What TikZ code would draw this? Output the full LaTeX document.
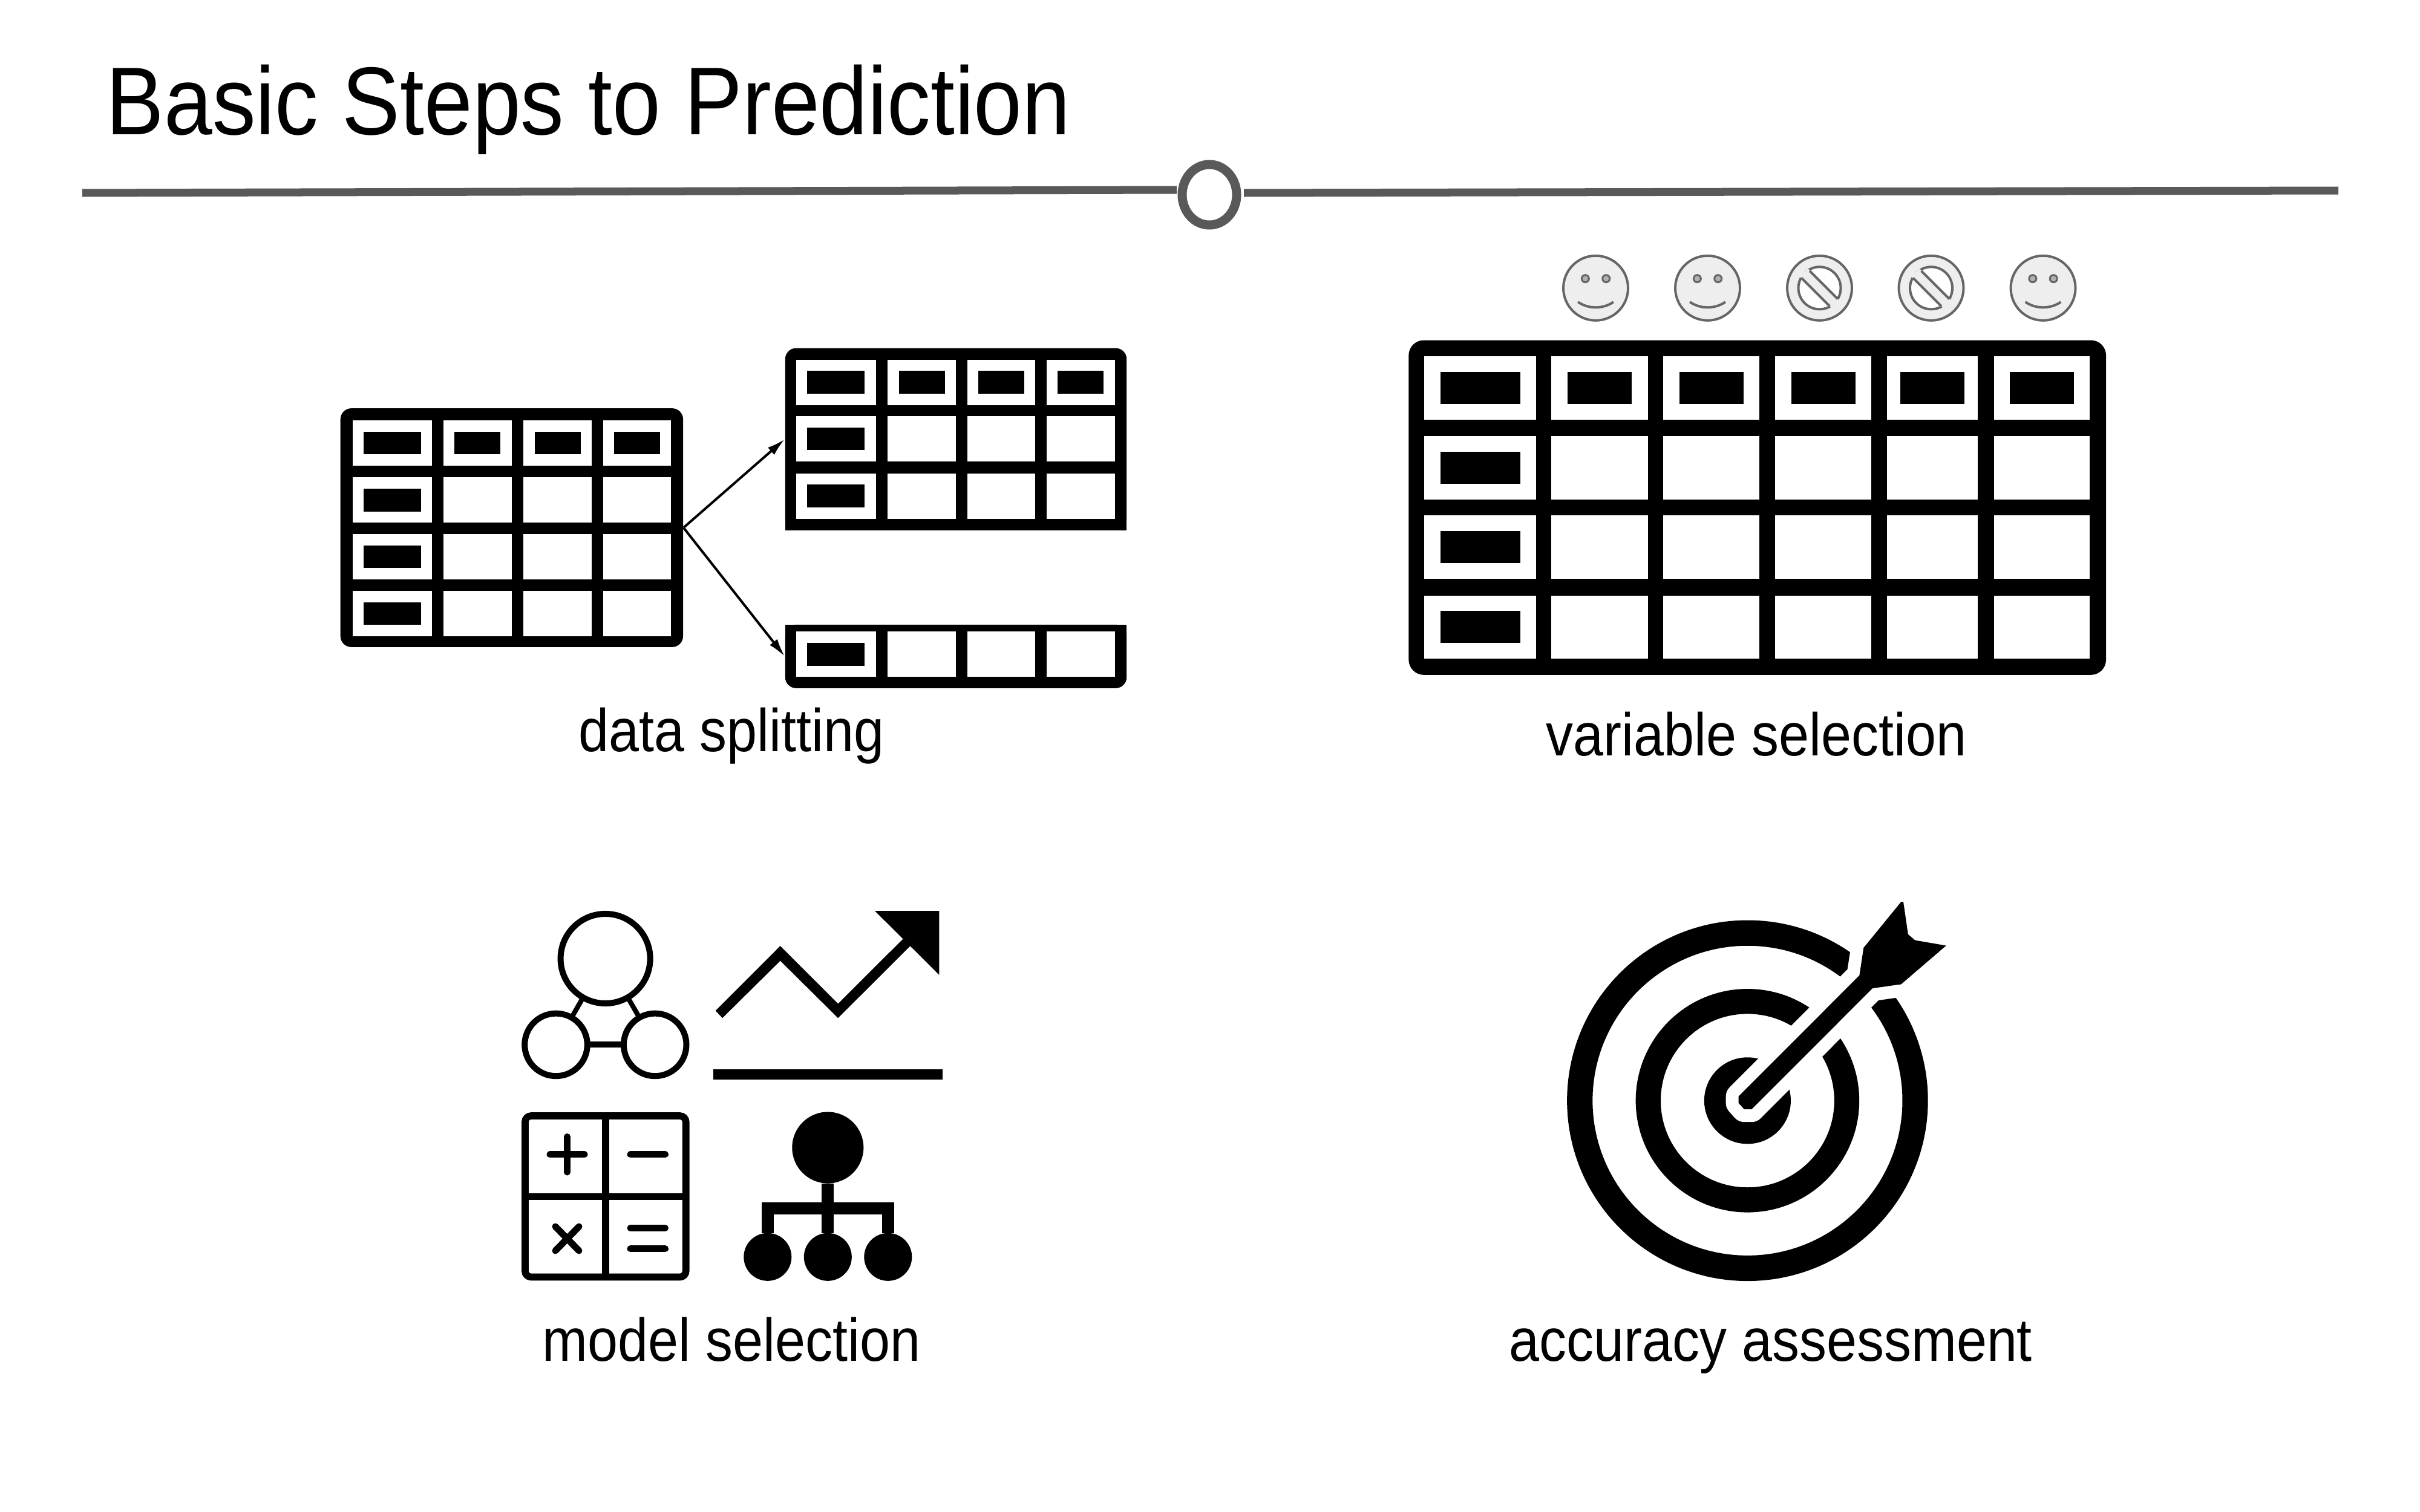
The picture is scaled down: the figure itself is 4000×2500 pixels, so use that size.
\documentclass[tikz,border=0pt]{standalone}
\usepackage{fontspec}
\setmainfont[FakeStretch=0.9]{Liberation Sans}
\usetikzlibrary{arrows.meta}
\usetikzlibrary{shapes.geometric}

\definecolor{rulegray}{HTML}{595959}
\definecolor{facegray}{HTML}{EEEEEE}
\definecolor{facelinegray}{HTML}{666666}
\definecolor{eyegray}{HTML}{B0B0B0}

% One pixel of the picture is one unit, y runs downwards
\tikzset{
  px/.style={x=0.01cm, y=-0.01cm},
  rule/.style={draw=rulegray, line width=0.13cm},
  heading/.style={anchor=base west, inner sep=0pt, font=\fontsize{45.3}{54}\selectfont},
  caption/.style={anchor=base, inner sep=0pt, font=\fontsize{28.4}{34}\selectfont},
  tablebox/.style={fill=black, rounded corners=0.18cm, inner sep=0pt},
  split/.style={draw=black, line width=0.04cm, -{Latex[length=0.3cm,width=0.16cm]}},
  faceline/.style={draw=facelinegray, line width=0.04cm, line join=round},
  bubble/.style={circle, draw=black, line width=0.1cm, inner sep=0pt, outer sep=0pt},
  blob/.style={circle, fill=black, inner sep=0pt, outer sep=0pt},
  treeline/.style={draw=black, line width=0.2cm},
  opsign/.style={draw=black, line width=0.11cm, line cap=round},
  ring/.style={circle, draw=black, inner sep=0pt, outer sep=0pt},
  smileface/.pic={
    \draw[faceline, fill=facegray] (0,0) circle (53.5);
    \draw[faceline, line width=0.03cm, fill=eyegray] (-17.2,-15.6) circle (6);
    \draw[faceline, line width=0.03cm, fill=eyegray] (17.2,-15.6) circle (6);
    \draw[faceline] (-29.3,23) .. controls (-12,35) and (12,35) .. (29.3,23);
  },
  blockface/.pic={
    \draw[faceline, fill=facegray] (0,0) circle (53.5);
    \draw[faceline, fill=white] (0,0) circle (35);
    % Diagonal bar over the hole
    \fill[facegray] (-19,-32) -- (34,22) -- (21,34) -- (-34,-20) -- cycle;
    \draw[faceline] (-16.3,-28.3) -- (30,18);
    \draw[faceline] (-30,-16.7) -- (16.7,30);
  }
}

% Cells of a table: columns x/width/tag width, row tops, row height, tag height, tagged row
\newcommand{\tablecells}[5]{
  \foreach \cx/\cw/\tw [count=\c] in {#1} {
    \foreach \cy [count=\r] in {#2} {
      \fill[white] (\cx,\cy) rectangle ++(\cw,#3);
      \ifnum\c=1 \def\tagged{1}\else\ifnum\r=#5 \def\tagged{1}\else\def\tagged{0}\fi\fi
      \ifnum\tagged=1
        \fill[black] (\cx+\cw/2-\tw/2,\cy+#3/2-#4/2) rectangle ++(\tw,#4);
      \fi
    }
  }
}

\begin{document}
\begin{tikzpicture}[px]
  \useasboundingbox (0,0) rectangle (4000,2500);

  % Heading and rule
  \node[heading] (title) at (175,222) {Basic Steps to Prediction};
  \node[ellipse, draw=rulegray, fill=white, line width=0.15cm, minimum width=0.9cm,
        minimum height=1.0cm, inner sep=0pt] (hub) at (1999,322) {};
  \coordinate (rulea) at (136,319);
  \coordinate (ruleb) at (1945,314);
  \coordinate (rulec) at (2056,319);
  \coordinate (ruled) at (3865,315);
  \draw[rule] (rulea) -- (ruleb);
  \draw[rule] (rulec) -- (ruled);

  % Data splitting
  \node[tablebox, minimum width=5.66cm, minimum height=3.945cm] (full) at (845.9,872.5) {};
  \tablecells{583.2/130.4/95, 733/112.8/76, 865.3/112.7/76, 996.6/112.8/76}{694.6, 789.1, 882.6, 976.6}{75.3}{37.5}{1}
  \node[tablebox, minimum width=5.64cm, minimum height=3.01cm] (train) at (1580,726.2) {};
  \fill[black] (1298,800) rectangle (1862,876.7);
  \tablecells{1315.6/132.3/95, 1467.3/112.7/76, 1598.6/112.8/76, 1729.9/112.8/76}{594.6, 688.1, 782.6}{75.2}{37.5}{1}
  \node[tablebox, minimum width=5.64cm, minimum height=1.05cm] (test) at (1580,1085.3) {};
  \fill[black] (1298,1032.8) rectangle (1862,1100);
  \tablecells{1315.6/132.3/95, 1467.3/112.7/76, 1598.6/112.8/76, 1729.9/112.8/76}{1044.3}{75.1}{37.5}{0}
  \draw[split] (full.east) -- (train.west);
  \draw[split] (full.east) -- (test.west);
  \node[caption] (splitlabel) at (1209,1242) {data splitting};

  % Variable selection
  \pic at (2637.5,476.3) {smileface};
  \pic at (2822.5,476.3) {smileface};
  \pic at (3007.5,476.3) {blockface};
  \pic at (3192,476.3) {blockface};
  \pic at (3377,476.3) {smileface};
  \node[tablebox, rounded corners=0.25cm, minimum width=11.52cm, minimum height=5.53cm] (wide) at (2904.7,839.2) {};
  \tablecells{2354.2/185.1/132, 2564/159.6/106, 2749/159/106, 2934/159/106, 3118.5/150.5/106, 3295.6/158.8/106}{589.2, 720.8, 852.4, 984.6}{104.7}{53}{1}
  \node[caption] (varlabel) at (2903,1249) {variable selection};

  % Model selection: three linked circles
  \node[bubble, minimum size=1.48cm] (bubbletop) at (1000.6,1585) {};
  \node[bubble, minimum size=1.035cm] (bubbleleft) at (919,1727.4) {};
  \node[bubble, minimum size=1.035cm] (bubbleright) at (1082.7,1727.4) {};
  \draw[line width=0.08cm] (bubbletop) -- (bubbleleft);
  \draw[line width=0.08cm] (bubbletop) -- (bubbleright);
  \draw[line width=0.1cm] (bubbleleft) -- (bubbleright);

  % Model selection: trend
  \fill[black] (1182.7,1671.2) -- (1289.7,1564) -- (1385.2,1659.6) -- (1492.6,1552.4) -- (1504.6,1564)
    -- (1385.2,1683.2) -- (1289.7,1588.6) -- (1194.1,1683.2) -- cycle;
  \fill[black] (1445.9,1506) -- (1552.3,1506) -- (1552.3,1611.8) -- cycle;
  \fill[black] (1179.2,1768) rectangle (1558.3,1784.6);

  % Model selection: calculator
  \draw[line width=0.117cm, rounded corners=0.1cm] (868,1845) rectangle (1133.7,2111.5);
  \draw[line width=0.117cm] (1001,1845) -- (1001,2111.5);
  \draw[line width=0.107cm] (868,1978.4) -- (1133.7,1978.4);
  \draw[opsign] (909,1908.7) -- (966,1908.7);
  \draw[opsign] (937.4,1879.5) -- (937.4,1938);
  \draw[opsign] (1042,1908.7) -- (1099.5,1908.7);
  \draw[opsign] (918,2028) -- (957,2068);
  \draw[opsign] (918,2068) -- (957,2028);
  \draw[opsign] (1042,2030.5) -- (1099.5,2030.5);
  \draw[opsign] (1042,2064.9) -- (1099.5,2064.9);

  % Model selection: tree
  \node[blob, minimum size=1.18cm] (treetop) at (1368.3,1897.5) {};
  \node[blob, minimum size=0.79cm] (leafa) at (1268.8,2078.3) {};
  \node[blob, minimum size=0.79cm] (leafb) at (1368.3,2078.3) {};
  \node[blob, minimum size=0.79cm] (leafc) at (1467.8,2078.3) {};
  \coordinate (treebar) at (1368.3,1998);
  \draw[treeline] (treetop) -- (leafb);
  \draw[treeline] (leafa) |- (treebar) -| (leafc);
  \node[caption] (modellabel) at (1209,2250) {model selection};

  % Accuracy assessment
  \node[ring, line width=0.422cm, minimum size=5.54cm] (ringouter) at (2888.4,1819.8) {};
  \node[ring, line width=0.413cm, minimum size=3.28cm] (ringmiddle) at (2888.4,1819.8) {};
  \node[blob, minimum size=1.43cm] (bullseye) at (2888.4,1819.8) {};
  \begin{scope}[shift={(2888.4,1819.8)}]
    \path[fill=black, preaction={draw=white, line width=0.42cm, line join=round}]
      (-14.7,-7.1) -- (-14.7,4) -- (-5.5,14.3) -- (6.9,14.3) -- (206.6,-185.7) -- (253.9,-192.4)
      -- (328.3,-256.3) -- (276.9,-265.2) -- (265.4,-275) -- (257.6,-328.6) -- (253.9,-328.6)
      -- (191.9,-252.7) -- (185,-207.1) -- cycle;
  \end{scope}
  \node[caption] (acclabel) at (2927,2250) {accuracy assessment};
\end{tikzpicture}
\end{document}
